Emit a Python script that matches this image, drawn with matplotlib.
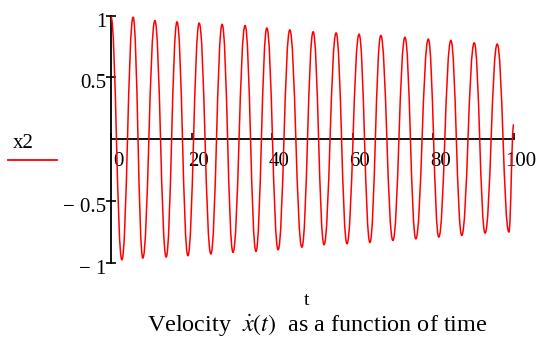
import matplotlib
matplotlib.use("Agg")
import matplotlib.pyplot as plt
from matplotlib.path import Path
from matplotlib.patches import PathPatch
from matplotlib.lines import Line2D
from matplotlib.transforms import ScaledTranslation

plt.rcParams['font.family'] = ['Liberation Serif', 'DejaVu Serif']
plt.rcParams['mathtext.fontset'] = 'stix'

# extremes of the velocity curve x2 = dx/dt
peak_t = [0.0, 5.5, 10.9, 16.4, 21.9, 27.6, 33.3, 38.7, 44.4, 50.2,
          55.9, 61.6, 67.0, 73.0, 78.8, 84.4, 90.2, 95.9]
peak_x = [0.99, 0.987, 0.96, 0.95, 0.94, 0.93, 0.92, 0.90, 0.885, 0.87,
          0.86, 0.85, 0.84, 0.825, 0.81, 0.80, 0.78, 0.77]
trough_t = [2.7, 7.9, 13.7, 19.1, 24.8, 30.3, 36.0, 41.5, 47.4, 52.9,
            58.6, 64.3, 70.0, 75.7, 81.4, 87.1, 92.9, 98.8]
trough_x = [-0.977, -0.963, -0.955, -0.944, -0.930, -0.917, -0.909, -0.896, -0.875,
            -0.855, -0.847, -0.837, -0.821, -0.807, -0.793, -0.780, -0.761, -0.752]
end_t, end_x = 100.0, 0.12

x_ticks = [0, 20, 40, 60, 80, 100]
x_ticklabels = ['0', '20', '40', '60', '80', '100']
y_ticks = [-1, -0.5, 0.5, 1]
y_ticklabels = ['\u2212 1', '\u2212 0.5', '0.5', '1']

fig = plt.figure(figsize=(5.41, 3.37), dpi=100)
ax = fig.add_axes([111 / 541, 1 - 262.6 / 337, 402.7 / 541, 246.9 / 337])
ax.set_xlim(0, 100)
ax.set_ylim(-1, 1)

# half-wave bezier segments between successive extremes
pts = []
for i in range(len(peak_t)):
    pts.append((peak_t[i], peak_x[i]))
    pts.append((trough_t[i], trough_x[i]))
pts.append((end_t, end_x))

verts = [pts[0]]
codes = [Path.MOVETO]
k = 0.43
for (t0, v0), (t1, v1) in zip(pts[:-1], pts[1:]):
    dt = t1 - t0
    verts += [(t0 + k * dt, v0), (t1 - k * dt, v1), (t1, v1)]
    codes += [Path.CURVE4] * 3
ax.add_patch(PathPatch(Path(verts, codes), facecolor='none', edgecolor='#ff0000',
                       linewidth=1.1, zorder=3))

# crossed axes
for side in ['top', 'right']:
    ax.spines[side].set_visible(False)
ax.spines['bottom'].set_position(('data', 0))
ax.spines['bottom'].set_linewidth(1.3)
ax.spines['left'].set_linewidth(1.3)
ax.spines['bottom'].set_zorder(2)

ax.set_xticks(x_ticks)
ax.set_xticklabels(x_ticklabels, fontsize=15)
ax.set_yticks(y_ticks)
ax.set_yticklabels(y_ticklabels, fontsize=15)
ax.tick_params(axis='x', direction='in', length=4, width=1.2, pad=9)
ax.tick_params(axis='y', direction='inout', length=7, width=1.2, pad=0)

for lab in ax.get_xticklabels():
    lab.set_transform(lab.get_transform() + ScaledTranslation(7 / 100, 0, fig.dpi_scale_trans))
for lab in ax.get_yticklabels():
    lab.set_transform(lab.get_transform() + ScaledTranslation(0, -4 / 100, fig.dpi_scale_trans))

# trace legend on the left
fig.text(13 / 541, 1 - 143 / 337, 'x2', fontsize=15, ha='left', va='center')
fig.add_artist(Line2D([8 / 541, 57 / 541], [1 - 160 / 337, 1 - 160 / 337],
                      color='#ff0000', linewidth=1.3, transform=fig.transFigure))

fig.text(307 / 541, 1 - 305 / 337, 't', fontsize=14, ha='center', va='baseline')
fig.text(147 / 541, 1 - 331 / 337, r'Velocity  $\dot{x}(t)$  as a function of time',
         fontsize=17.4, ha='left', va='baseline')

fig.savefig('out.png', dpi=100)
